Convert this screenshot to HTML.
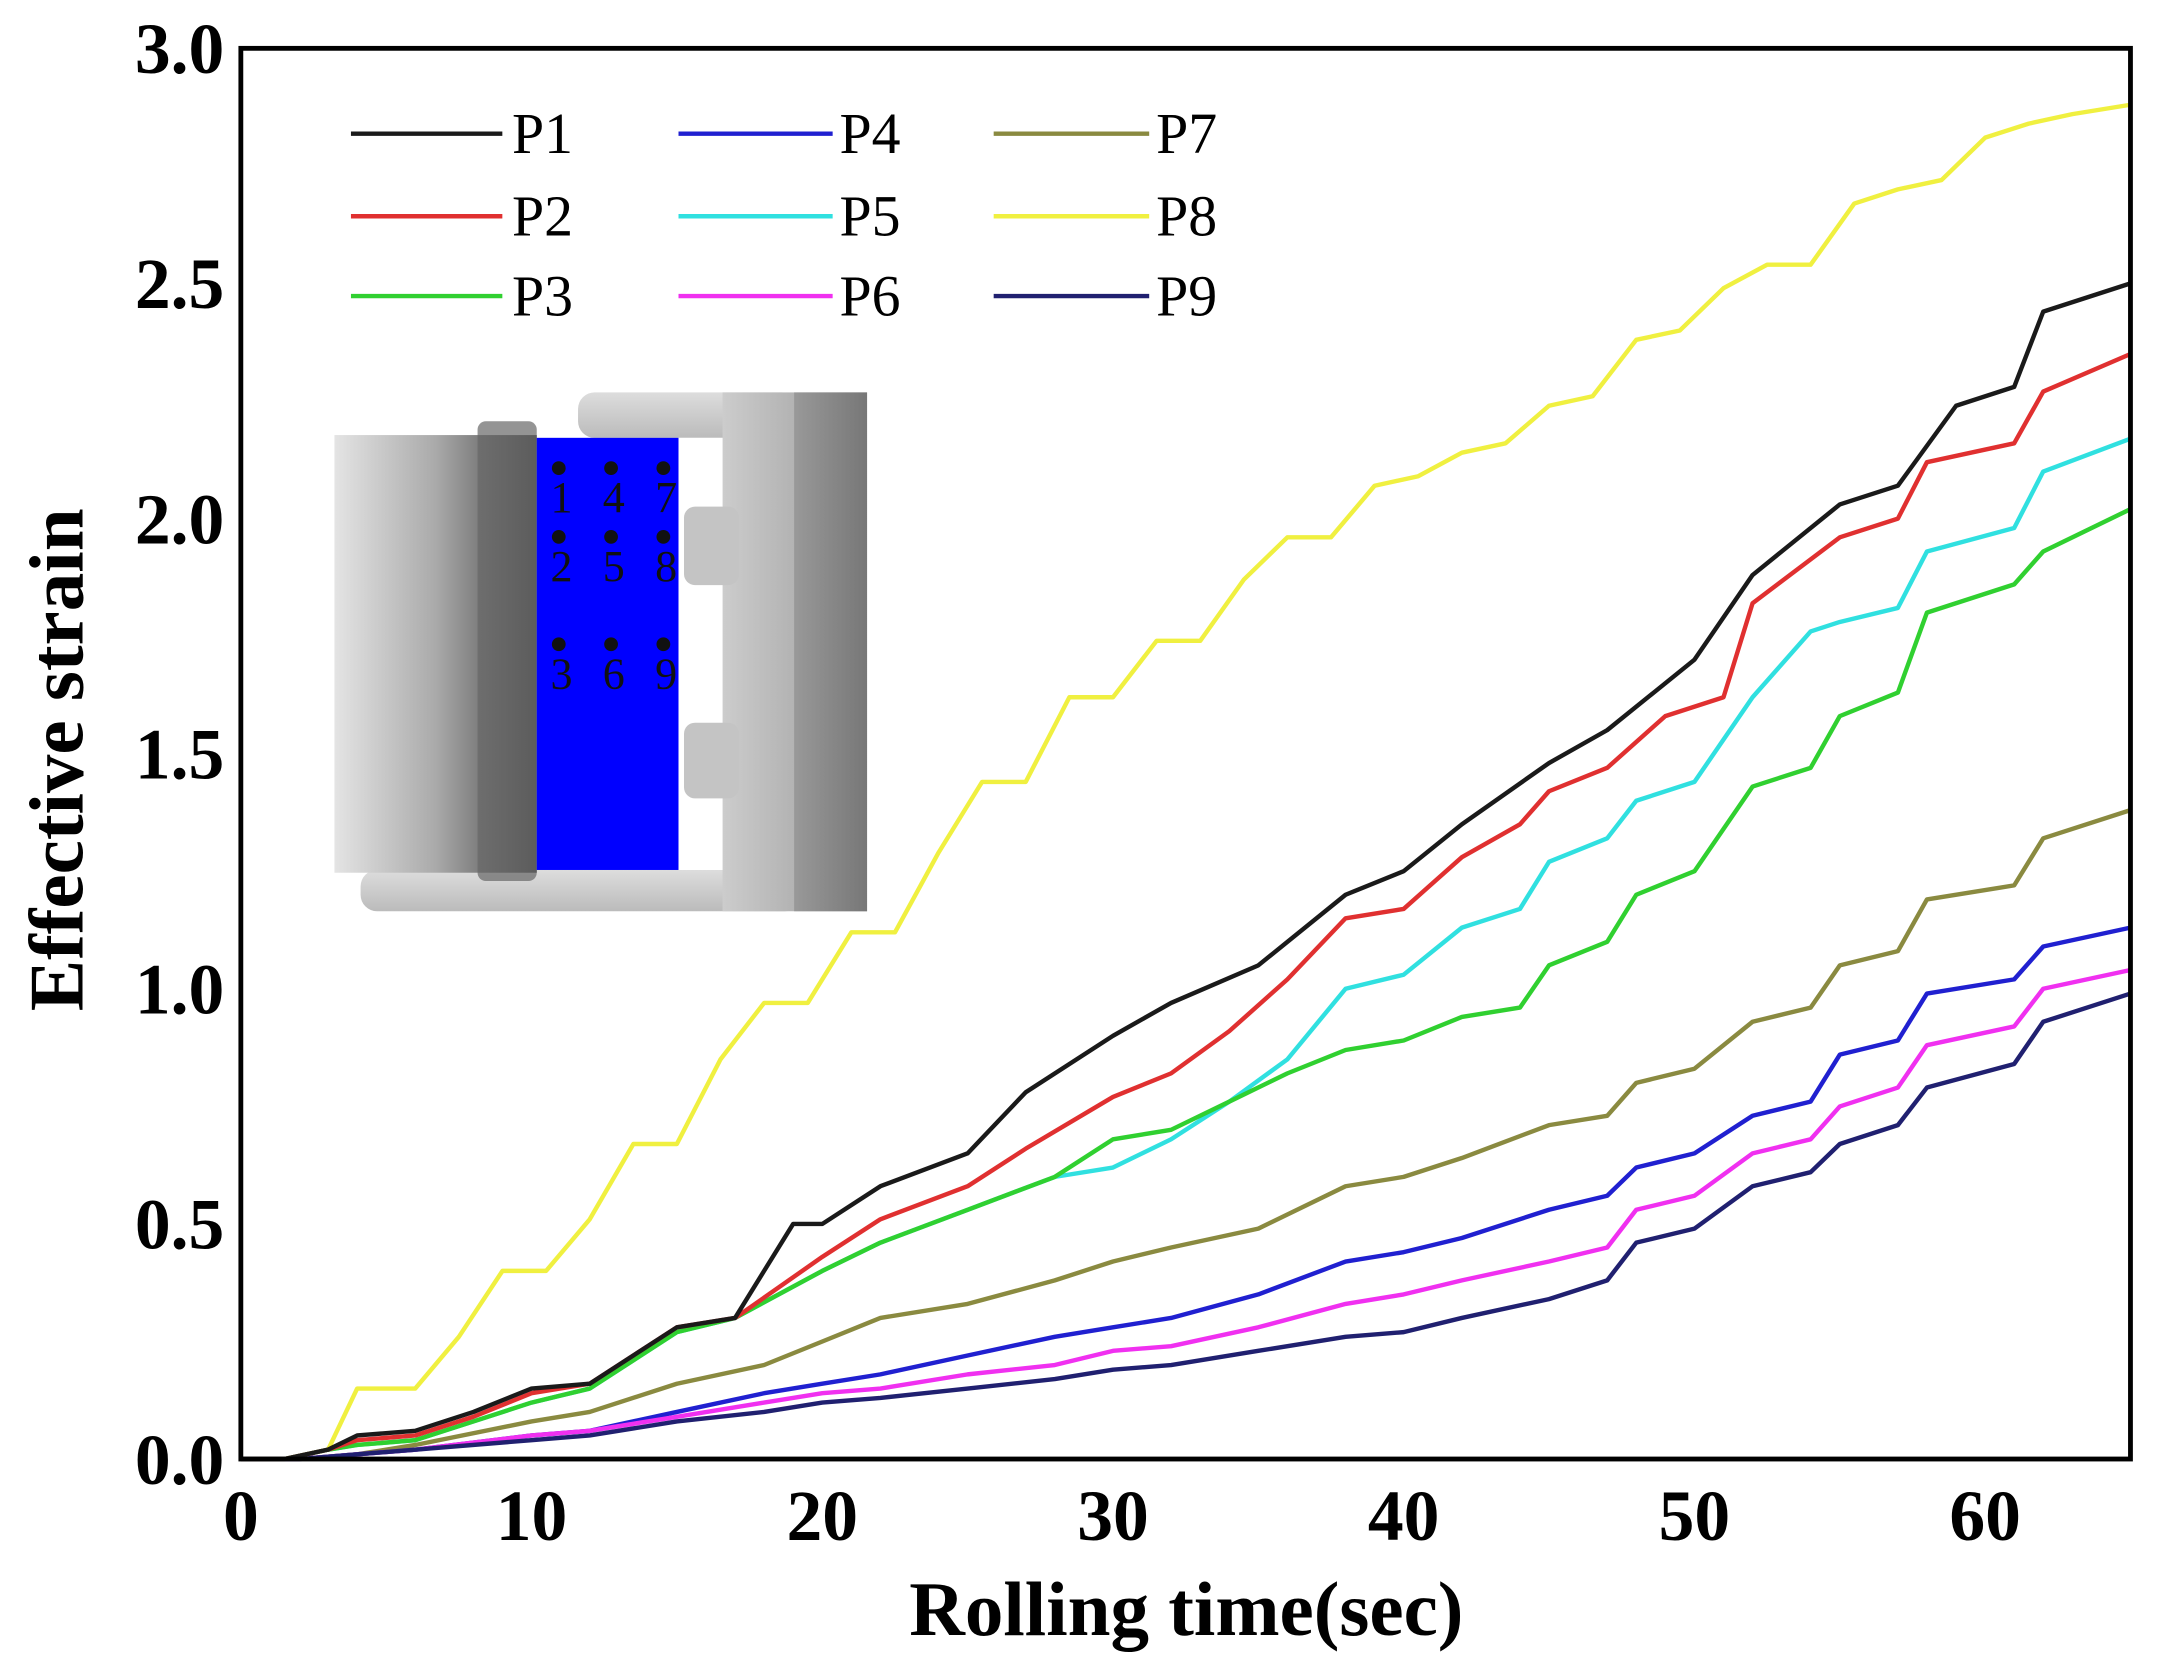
<!DOCTYPE html>
<html><head><meta charset="utf-8"><style>
html,body{margin:0;padding:0;background:#fff;}
svg{display:block;}
text{font-family:"Liberation Serif",serif;}
</style></head><body>
<svg id="chart" width="2158" height="1667" viewBox="0 0 1568 1211" xmlns="http://www.w3.org/2000/svg">
<defs>
<linearGradient id="gL" x1="0" x2="1" y1="0" y2="0"><stop offset="0" stop-color="#e4e4e4"/><stop offset="0.5" stop-color="#aaa"/><stop offset="1" stop-color="#444"/></linearGradient>
<linearGradient id="gR" x1="0" x2="1" y1="0" y2="0"><stop offset="0" stop-color="#ccc"/><stop offset="1" stop-color="#999"/></linearGradient>
<linearGradient id="gD" x1="0" x2="1" y1="0" y2="0"><stop offset="0" stop-color="#999"/><stop offset="1" stop-color="#777"/></linearGradient>
<linearGradient id="gB" x1="0" x2="0" y1="0" y2="1"><stop offset="0" stop-color="#ddd"/><stop offset="1" stop-color="#bbb"/></linearGradient>
</defs>
<g id="plot"></g>
<g id="inset">
  <rect x="420" y="285" width="160" height="33" rx="12" fill="url(#gB)"/>
  <rect x="262" y="632" width="320" height="30" rx="12" fill="url(#gB)"/>
  <rect x="243" y="316" width="147" height="318" fill="url(#gL)"/>
  <rect x="347" y="306" width="43" height="334" rx="6" fill="#666" opacity="0.7"/>
  <rect x="525" y="285" width="105" height="377" fill="url(#gR)"/>
  <rect x="577" y="285" width="53" height="377" fill="url(#gD)"/>
  <rect x="493" y="318" width="32" height="314" fill="#fff"/>
  <rect x="497" y="368" width="40" height="57" rx="8" fill="#c4c4c4"/>
  <rect x="497" y="525" width="40" height="55" rx="8" fill="#c4c4c4"/>
  <rect x="390" y="318" width="103" height="314" fill="#0000ff"/>
  <g id="dots" font-size="32" fill="#111"></g>
</g>
</svg>
<script>
const xTicks=[0,10,20,30,40,50,60];
const yTicks=["0.0","0.5","1.0","1.5","2.0","2.5","3.0"];
const names=["P1","P2","P3","P4","P5","P6","P7","P8","P9"];
const colors=["#1a1a1a","#e03030","#30d030","#2020d0","#30e0e0","#f030f0","#8a8a40","#f0f040","#202070"];
const t1=[0,1.5,3,4,6,8,10,12,15,17,18,19,20,22,25,27,30,32,35,38,40,42,45,47,50,52,55,57,59,61,62,65];
const P1=[0,0,0.02,0.05,0.06,0.10,0.15,0.16,0.28,0.30,0.40,0.50,0.50,0.58,0.65,0.78,0.90,0.97,1.05,1.20,1.25,1.35,1.48,1.55,1.70,1.88,2.03,2.07,2.24,2.28,2.44,2.50];
const t2=[0,1.5,3,4,6,8,10,12,15,17,20,22,25,27,30,32,34,36,38,40,42,44,45,47,49,51,52,55,57,58,61,62,65];
const P2=[0,0,0.02,0.04,0.05,0.09,0.14,0.16,0.28,0.30,0.43,0.51,0.58,0.66,0.77,0.82,0.91,1.02,1.15,1.17,1.28,1.35,1.42,1.47,1.58,1.62,1.82,1.96,2.00,2.12,2.16,2.27,2.35];
const t3=[0,1.5,3,4,6,8,10,12,15,17,20,22,25,28,30,32,34,36,38,40,42,44,45,47,48,50,52,54,55,57,58,61,62,65];
const P3=[0,0,0.02,0.03,0.04,0.08,0.12,0.15,0.27,0.30,0.40,0.46,0.53,0.60,0.68,0.70,0.76,0.82,0.87,0.89,0.94,0.96,1.05,1.10,1.20,1.25,1.43,1.47,1.58,1.63,1.80,1.86,1.93,2.02];
const P5=[0,0,0.02,0.03,0.04,0.08,0.12,0.15,0.27,0.30,0.40,0.46,0.53,0.60,0.62,0.68,0.76,0.85,1.00,1.03,1.13,1.17,1.27,1.32,1.40,1.44,1.62,1.76,1.78,1.81,1.93,1.98,2.10,2.17];
const t4=[0,2,4,6,10,12,15,18,20,22,25,28,30,32,35,38,40,42,45,47,48,50,52,54,55,57,58,61,62,65];
const P4=[0,0,0.01,0.02,0.05,0.06,0.10,0.14,0.16,0.18,0.22,0.26,0.28,0.30,0.35,0.42,0.44,0.47,0.53,0.56,0.62,0.65,0.73,0.76,0.86,0.89,0.99,1.02,1.09,1.13];
const P6=[0,0,0.01,0.02,0.05,0.06,0.09,0.12,0.14,0.15,0.18,0.20,0.23,0.24,0.28,0.33,0.35,0.38,0.42,0.45,0.53,0.56,0.65,0.68,0.75,0.79,0.88,0.92,1.00,1.04];
const P9=[0,0,0.01,0.02,0.04,0.05,0.08,0.10,0.12,0.13,0.15,0.17,0.19,0.20,0.23,0.26,0.27,0.30,0.34,0.38,0.46,0.49,0.58,0.61,0.67,0.71,0.79,0.84,0.93,0.99];
const P7=[0,0,0.01,0.03,0.08,0.10,0.16,0.20,0.25,0.30,0.33,0.38,0.42,0.45,0.49,0.58,0.60,0.64,0.71,0.73,0.80,0.83,0.93,0.96,1.05,1.08,1.19,1.22,1.32,1.38];
const t8=[0,1.5,3,4,6,7.5,9,10.5,12,13.5,15,16.5,18,19.5,21,22.5,24,25.5,27,28.5,30,31.5,33,34.5,36,37.5,39,40.5,42,43.5,45,46.5,48,49.5,51,52.5,54,55.5,57,58.5,60,61.5,63,65];
const P8=[0,0,0.02,0.15,0.15,0.26,0.40,0.40,0.51,0.67,0.67,0.85,0.97,0.97,1.12,1.12,1.29,1.44,1.44,1.62,1.62,1.74,1.74,1.87,1.96,1.96,2.07,2.09,2.14,2.16,2.24,2.26,2.38,2.40,2.49,2.54,2.54,2.67,2.70,2.72,2.81,2.84,2.86,2.88];
const seriesT=[t1,t2,t3,t4,t3,t4,t4,t8,t4];
const seriesV=[P1,P2,P3,P4,P5,P6,P7,P8,P9];
const X0=175,X1=1548,Y0=1060,Y1=35,XMAX=65,YMAX=3;
const sx=v=>X0+(X1-X0)*v/XMAX, sy=v=>Y0-(Y0-Y1)*v/YMAX;
const NS="http://www.w3.org/2000/svg";
const plot=document.getElementById('plot');
function mk(tag,attrs,parent){const e=document.createElementNS(NS,tag);for(const k in attrs)e.setAttribute(k,attrs[k]);(parent||plot).appendChild(e);return e;}
const order=[7,6,3,5,8,4,2,1,0];
order.forEach(i=>{
  const d=seriesT[i].map((t,j)=>(j?'L':'M')+sx(t).toFixed(1)+','+sy(seriesV[i][j]).toFixed(1)).join(' ');
  const p=mk('path',{d:d,fill:'none',stroke:colors[i],'stroke-width':3.2,'stroke-linejoin':'round'});
  
  
});
const frame=mk('rect',{x:X0,y:Y1,width:X1-X0,height:Y0-Y1,fill:'none',stroke:'#000','stroke-width':3.5});


xTicks.forEach(v=>{
  const t=mk('text',{x:sx(v),y:1119,'font-size':52,'font-weight':'bold','text-anchor':'middle'});
  t.textContent=v;
  
  
});
yTicks.forEach(v=>{
  const t=mk('text',{x:163,y:sy(+v)+18,'font-size':52,'font-weight':'bold','text-anchor':'end'});
  t.textContent=v;
  
  
});
const xt=mk('text',{x:862,y:1188,'font-size':56,'font-weight':'bold','text-anchor':'middle'});
xt.textContent='Rolling time(sec)';


const yt=mk('text',{x:0,y:0,'font-size':56,'font-weight':'bold','text-anchor':'middle',transform:'translate(60,552) rotate(-90)'});
yt.textContent='Effective strain';


const legCols=[[255,365,372],[493,605,610],[722,835,840]], legRows=[97,157,215];
names.forEach((n,i)=>{
  const c=legCols[Math.floor(i/3)], y=legRows[i%3];
  const g=mk('g',{});
  
  
  mk('line',{x1:c[0],x2:c[1],y1:y,y2:y,stroke:colors[i],'stroke-width':3.2},g);
  const t=mk('text',{x:c[2],y:y+14,'font-size':42},g);
  t.textContent=n;
});
const dots=document.getElementById('dots');
const dx=[406,444,482], dy=[340,390,468];
for(let r=0;r<3;r++)for(let c=0;c<3;c++){
  mk('circle',{cx:dx[c],cy:dy[r],r:5,fill:'#111'},dots);
  const t=mk('text',{x:dx[c]+2,y:dy[r]+32,'text-anchor':'middle'},dots);
  t.textContent=String(c*3+r+1);
}
</script>
</body></html>
